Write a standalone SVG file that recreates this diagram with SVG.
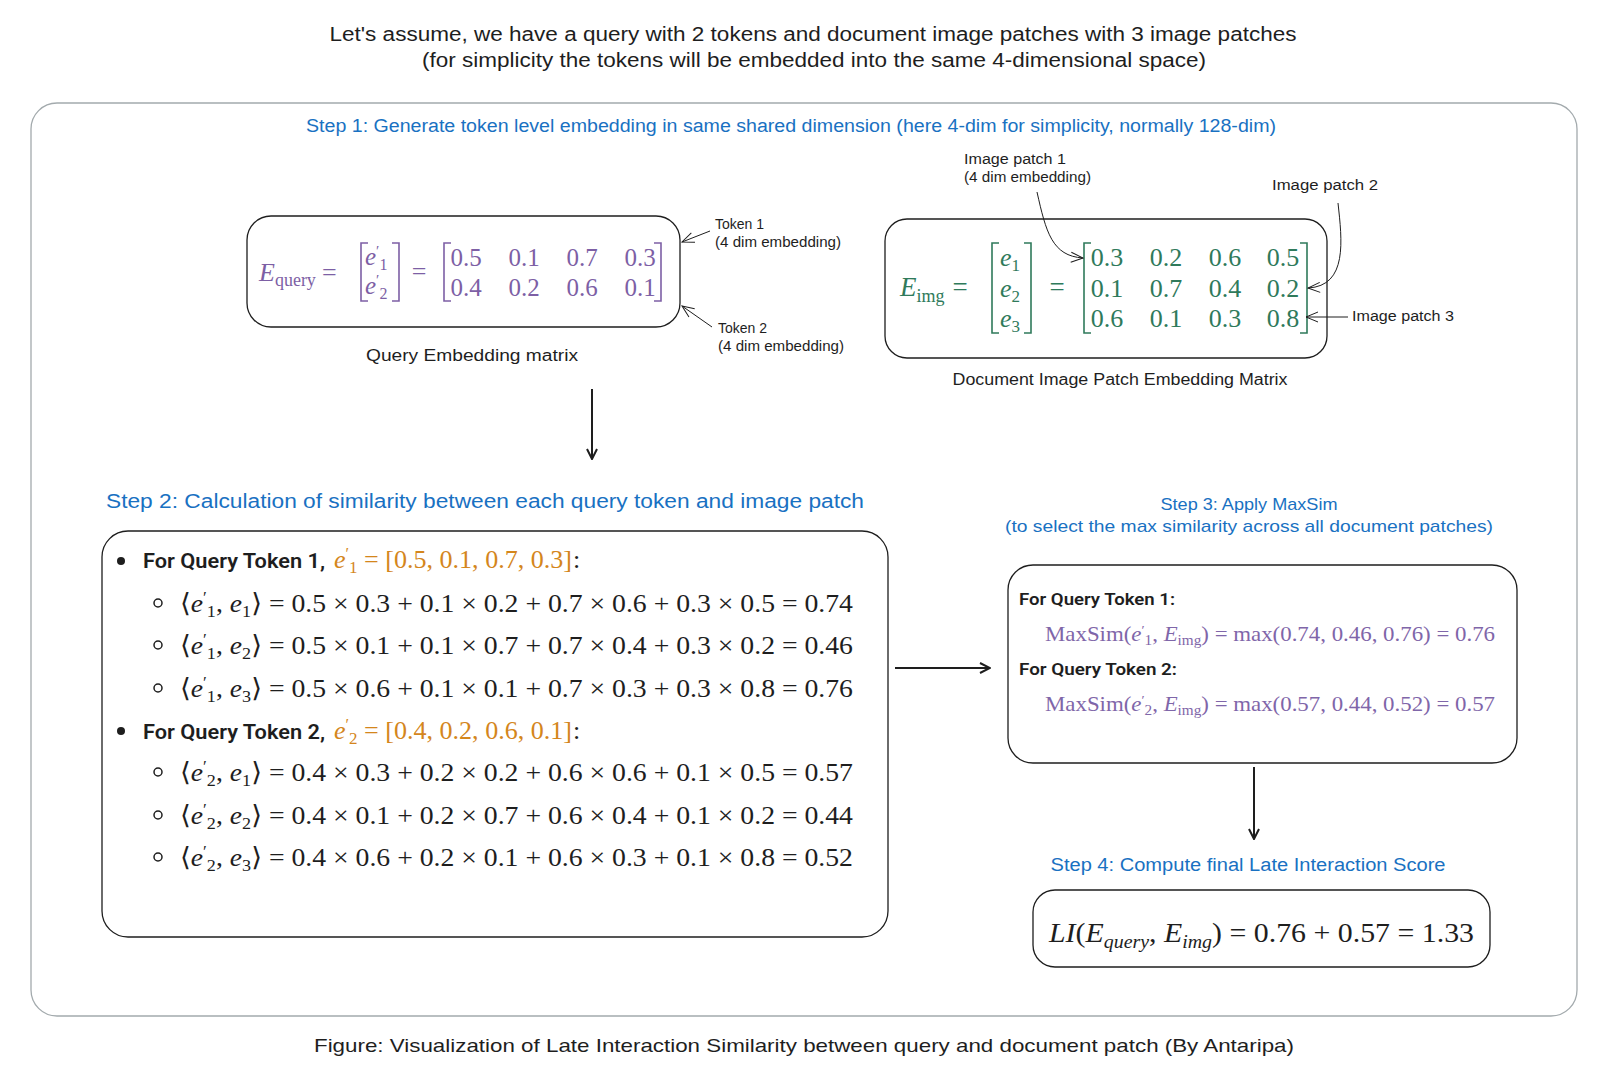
<svg xmlns="http://www.w3.org/2000/svg" width="1600" height="1076" viewBox="0 0 1600 1076">
<style>
.hw{font-family:"Liberation Sans","DejaVu Sans",sans-serif;fill:#1e1e1e}
.blue{fill:#1971c2}
.lbl{font-size:14px}
.m{font-family:"Liberation Serif","DejaVu Serif",serif}
.it{font-style:italic}
.box{fill:#fff;stroke:#1e1e1e;stroke-width:1.3}
.pur{fill:#7d5fa5}
.grn{fill:#2f7a5b}
.org{fill:#d4861c}
.br{fill:none;stroke-width:1.6}
.sans{font-family:"Roboto","Liberation Sans",sans-serif;font-weight:600;fill:#1e1e1e}
.ann{fill:none;stroke:#1e1e1e;stroke-width:1}
.con{fill:none;stroke:#1e1e1e;stroke-width:2}
</style>
<defs>
<marker id="ah" viewBox="0 0 12 12" refX="11" refY="6" markerWidth="12" markerHeight="12" markerUnits="userSpaceOnUse" orient="auto">
<path d="M1,1 L11,6 L1,11" fill="none" stroke="#1e1e1e" stroke-width="2"/>
</marker>
<marker id="ahs" viewBox="0 0 14 14" refX="13" refY="7" markerWidth="14" markerHeight="14" markerUnits="userSpaceOnUse" orient="auto">
<path d="M1,2 L13,7 L1,12" fill="none" stroke="#1e1e1e" stroke-width="1"/>
</marker>
</defs>
<rect width="1600" height="1076" fill="#fff"/>

<g id="title">
<text class="hw" x="813" y="41" font-size="20" text-anchor="middle" textLength="967" lengthAdjust="spacingAndGlyphs">Let's assume, we have a query with 2 tokens and document image patches with 3 image patches</text>
<text class="hw" x="814" y="67" font-size="20" text-anchor="middle" textLength="784" lengthAdjust="spacingAndGlyphs">(for simplicity the tokens will be embedded into the same 4-dimensional space)</text>
</g>

<g id="container">
<rect x="31" y="103" width="1546" height="913" rx="26" fill="none" stroke="#a3aaad" stroke-width="1.3"/>
<text class="hw blue" x="791" y="132" font-size="18" text-anchor="middle" textLength="970" lengthAdjust="spacingAndGlyphs">Step 1: Generate token level embedding in same shared dimension (here 4-dim for simplicity, normally 128-dim)</text>
</g>

<g id="query-matrix">
<rect class="box" x="247" y="216" width="433" height="111" rx="24"/>
<text class="m pur" x="259" y="281" font-size="26"><tspan class="it">E</tspan><tspan font-size="18" dy="5">query</tspan><tspan dy="-5" dx="6">=</tspan></text>
<path class="br" stroke="#7d5fa5" d="M368,243 H361 V301 H368 M392,243 H399 V301 H392"/>
<text class="m pur" x="365" y="265" font-size="25"><tspan class="it">e</tspan><tspan font-size="15" dy="-9">′</tspan><tspan font-size="16" dy="14">1</tspan></text>
<text class="m pur" x="365" y="294" font-size="25"><tspan class="it">e</tspan><tspan font-size="15" dy="-9">′</tspan><tspan font-size="16" dy="14">2</tspan></text>
<text class="m pur" x="419" y="280" font-size="26" text-anchor="middle">=</text>
<path class="br" stroke="#7d5fa5" d="M451,243 H444 V301 H451 M654,243 H661 V301 H654"/>
<g class="m pur" font-size="25" text-anchor="middle">
<text x="466" y="266">0.5</text><text x="524" y="266">0.1</text><text x="582" y="266">0.7</text><text x="640" y="266">0.3</text>
<text x="466" y="296">0.4</text><text x="524" y="296">0.2</text><text x="582" y="296">0.6</text><text x="640" y="296">0.1</text>
</g>
<text class="hw" x="472" y="361" font-size="16" text-anchor="middle" textLength="212" lengthAdjust="spacingAndGlyphs">Query Embedding matrix</text>
</g>

<g id="token-labels">
<text class="hw lbl" x="715" y="229">Token 1</text>
<text class="hw lbl" x="715" y="247" textLength="126" lengthAdjust="spacingAndGlyphs">(4 dim embedding)</text>
<text class="hw lbl" x="718" y="333">Token 2</text>
<text class="hw lbl" x="718" y="351" textLength="126" lengthAdjust="spacingAndGlyphs">(4 dim embedding)</text>
</g>

<g id="doc-matrix">
<rect class="box" x="885" y="219" width="442" height="139" rx="22"/>
<text class="m grn" x="900" y="296" font-size="27"><tspan class="it">E</tspan><tspan font-size="18" dy="6">img</tspan><tspan dy="-6" dx="8">=</tspan></text>
<path class="br" stroke="#2f7a5b" d="M999,243 H992 V333 H999 M1024,243 H1031 V333 H1024"/>
<g class="m grn" font-size="26">
<text x="1000" y="266"><tspan class="it">e</tspan><tspan font-size="17" dy="5">1</tspan></text>
<text x="1000" y="297"><tspan class="it">e</tspan><tspan font-size="17" dy="5">2</tspan></text>
<text x="1000" y="327"><tspan class="it">e</tspan><tspan font-size="17" dy="5">3</tspan></text>
</g>
<text class="m grn" x="1057" y="296" font-size="27" text-anchor="middle">=</text>
<path class="br" stroke="#2f7a5b" d="M1091,243 H1084 V333 H1091 M1300,243 H1307 V333 H1300"/>
<g class="m grn" font-size="26" text-anchor="middle">
<text x="1107" y="266">0.3</text><text x="1166" y="266">0.2</text><text x="1225" y="266">0.6</text><text x="1283" y="266">0.5</text>
<text x="1107" y="297">0.1</text><text x="1166" y="297">0.7</text><text x="1225" y="297">0.4</text><text x="1283" y="297">0.2</text>
<text x="1107" y="327">0.6</text><text x="1166" y="327">0.1</text><text x="1225" y="327">0.3</text><text x="1283" y="327">0.8</text>
</g>
<text class="hw" x="1120" y="385" font-size="16" text-anchor="middle" textLength="335" lengthAdjust="spacingAndGlyphs">Document Image Patch Embedding Matrix</text>
</g>

<g id="patch-labels">
<text class="hw lbl" x="964" y="164" textLength="102" lengthAdjust="spacingAndGlyphs">Image patch 1</text>
<text class="hw lbl" x="964" y="182" textLength="127" lengthAdjust="spacingAndGlyphs">(4 dim embedding)</text>
<text class="hw lbl" x="1272" y="190" textLength="106" lengthAdjust="spacingAndGlyphs">Image patch 2</text>
<text class="hw lbl" x="1352" y="321" textLength="102" lengthAdjust="spacingAndGlyphs">Image patch 3</text>
</g>

<g id="step2">
<text class="hw blue" x="106" y="508" font-size="20" textLength="758" lengthAdjust="spacingAndGlyphs">Step 2: Calculation of similarity between each query token and image patch</text>
<rect class="box" x="102" y="531" width="786" height="406" rx="26"/>
<circle cx="121" cy="561" r="4" fill="#1e1e1e"/>
<text class="sans" x="143" y="568" font-size="21" textLength="182" lengthAdjust="spacingAndGlyphs">For Query Token 1,</text>
<text class="m org" x="334" y="568" font-size="26" textLength="238" lengthAdjust="spacingAndGlyphs"><tspan class="it">e</tspan><tspan font-size="16" dy="-9">′</tspan><tspan font-size="17" dy="14">1</tspan><tspan dy="-5"> = [0.5, 0.1, 0.7, 0.3]</tspan></text>
<text class="m" x="573" y="568" font-size="26" fill="#1e1e1e">:</text>
<g class="m" font-size="26" fill="#1e1e1e">
<circle cx="158" cy="603" r="4" fill="none" stroke="#1e1e1e" stroke-width="1.5"/>
<text x="180" y="612" textLength="673" lengthAdjust="spacingAndGlyphs">⟨<tspan class="it">e</tspan><tspan font-size="16" dy="-9">′</tspan><tspan font-size="17" dy="14">1</tspan><tspan dy="-5">, </tspan><tspan class="it">e</tspan><tspan font-size="17" dy="5">1</tspan><tspan dy="-5">⟩ = 0.5 × 0.3 + 0.1 × 0.2 + 0.7 × 0.6 + 0.3 × 0.5 = 0.74</tspan></text>
<circle cx="158" cy="645" r="4" fill="none" stroke="#1e1e1e" stroke-width="1.5"/>
<text x="180" y="654" textLength="673" lengthAdjust="spacingAndGlyphs">⟨<tspan class="it">e</tspan><tspan font-size="16" dy="-9">′</tspan><tspan font-size="17" dy="14">1</tspan><tspan dy="-5">, </tspan><tspan class="it">e</tspan><tspan font-size="17" dy="5">2</tspan><tspan dy="-5">⟩ = 0.5 × 0.1 + 0.1 × 0.7 + 0.7 × 0.4 + 0.3 × 0.2 = 0.46</tspan></text>
<circle cx="158" cy="688" r="4" fill="none" stroke="#1e1e1e" stroke-width="1.5"/>
<text x="180" y="697" textLength="673" lengthAdjust="spacingAndGlyphs">⟨<tspan class="it">e</tspan><tspan font-size="16" dy="-9">′</tspan><tspan font-size="17" dy="14">1</tspan><tspan dy="-5">, </tspan><tspan class="it">e</tspan><tspan font-size="17" dy="5">3</tspan><tspan dy="-5">⟩ = 0.5 × 0.6 + 0.1 × 0.1 + 0.7 × 0.3 + 0.3 × 0.8 = 0.76</tspan></text>
</g>
<circle cx="121" cy="731" r="4" fill="#1e1e1e"/>
<text class="sans" x="143" y="739" font-size="21" textLength="182" lengthAdjust="spacingAndGlyphs">For Query Token 2,</text>
<text class="m org" x="334" y="739" font-size="26" textLength="238" lengthAdjust="spacingAndGlyphs"><tspan class="it">e</tspan><tspan font-size="16" dy="-9">′</tspan><tspan font-size="17" dy="14">2</tspan><tspan dy="-5"> = [0.4, 0.2, 0.6, 0.1]</tspan></text>
<text class="m" x="573" y="739" font-size="26" fill="#1e1e1e">:</text>
<g class="m" font-size="26" fill="#1e1e1e">
<circle cx="158" cy="772" r="4" fill="none" stroke="#1e1e1e" stroke-width="1.5"/>
<text x="180" y="781" textLength="673" lengthAdjust="spacingAndGlyphs">⟨<tspan class="it">e</tspan><tspan font-size="16" dy="-9">′</tspan><tspan font-size="17" dy="14">2</tspan><tspan dy="-5">, </tspan><tspan class="it">e</tspan><tspan font-size="17" dy="5">1</tspan><tspan dy="-5">⟩ = 0.4 × 0.3 + 0.2 × 0.2 + 0.6 × 0.6 + 0.1 × 0.5 = 0.57</tspan></text>
<circle cx="158" cy="815" r="4" fill="none" stroke="#1e1e1e" stroke-width="1.5"/>
<text x="180" y="824" textLength="673" lengthAdjust="spacingAndGlyphs">⟨<tspan class="it">e</tspan><tspan font-size="16" dy="-9">′</tspan><tspan font-size="17" dy="14">2</tspan><tspan dy="-5">, </tspan><tspan class="it">e</tspan><tspan font-size="17" dy="5">2</tspan><tspan dy="-5">⟩ = 0.4 × 0.1 + 0.2 × 0.7 + 0.6 × 0.4 + 0.1 × 0.2 = 0.44</tspan></text>
<circle cx="158" cy="857" r="4" fill="none" stroke="#1e1e1e" stroke-width="1.5"/>
<text x="180" y="866" textLength="673" lengthAdjust="spacingAndGlyphs">⟨<tspan class="it">e</tspan><tspan font-size="16" dy="-9">′</tspan><tspan font-size="17" dy="14">2</tspan><tspan dy="-5">, </tspan><tspan class="it">e</tspan><tspan font-size="17" dy="5">3</tspan><tspan dy="-5">⟩ = 0.4 × 0.6 + 0.2 × 0.1 + 0.6 × 0.3 + 0.1 × 0.8 = 0.52</tspan></text>
</g>
</g>

<g id="step3">
<text class="hw blue" x="1249" y="510" font-size="17" text-anchor="middle" textLength="177" lengthAdjust="spacingAndGlyphs">Step 3: Apply MaxSim</text>
<text class="hw blue" x="1249" y="532" font-size="17" text-anchor="middle" textLength="488" lengthAdjust="spacingAndGlyphs">(to select the max similarity across all document patches)</text>
<rect class="box" x="1008" y="565" width="509" height="198" rx="25"/>
<text class="sans" x="1019" y="605" font-size="17" font-weight="500" textLength="156" lengthAdjust="spacingAndGlyphs">For Query Token 1:</text>
<text class="m" x="1045" y="641" font-size="21" fill="#7f66a9" textLength="450" lengthAdjust="spacingAndGlyphs">MaxSim(<tspan class="it">e</tspan><tspan font-size="13" dy="-7">′</tspan><tspan font-size="14" dy="11">1</tspan><tspan dy="-4">, </tspan><tspan class="it">E</tspan><tspan font-size="14" dy="4">img</tspan><tspan dy="-4">) = max(0.74, 0.46, 0.76) = 0.76</tspan></text>
<text class="sans" x="1019" y="675" font-size="17" font-weight="500" textLength="158" lengthAdjust="spacingAndGlyphs">For Query Token 2:</text>
<text class="m" x="1045" y="711" font-size="21" fill="#7f66a9" textLength="450" lengthAdjust="spacingAndGlyphs">MaxSim(<tspan class="it">e</tspan><tspan font-size="13" dy="-7">′</tspan><tspan font-size="14" dy="11">2</tspan><tspan dy="-4">, </tspan><tspan class="it">E</tspan><tspan font-size="14" dy="4">img</tspan><tspan dy="-4">) = max(0.57, 0.44, 0.52) = 0.57</tspan></text>
</g>

<g id="step4">
<text class="hw blue" x="1248" y="871" font-size="18" text-anchor="middle" textLength="395" lengthAdjust="spacingAndGlyphs">Step 4: Compute final Late Interaction Score</text>
<rect class="box" x="1033" y="890" width="457" height="77" rx="22"/>
<text class="m" x="1049" y="942" font-size="27" fill="#1e1e1e" textLength="425" lengthAdjust="spacingAndGlyphs"><tspan class="it">LI</tspan>(<tspan class="it">E</tspan><tspan class="it" font-size="18" dy="6">query</tspan><tspan dy="-6">, </tspan><tspan class="it">E</tspan><tspan class="it" font-size="18" dy="6">img</tspan><tspan dy="-6">) = 0.76 + 0.57 = 1.33</tspan></text>
</g>

<g id="footer">
<text class="hw" x="804" y="1052" font-size="19" text-anchor="middle" textLength="980" lengthAdjust="spacingAndGlyphs">Figure: Visualization of Late Interaction Similarity between query and document patch (By Antaripa)</text>
</g>

<g id="connectors">
<path class="con" d="M592,389 L592,459" marker-end="url(#ah)"/>
<path class="con" d="M895,668 L990,668" marker-end="url(#ah)"/>
<path class="con" d="M1254,767 L1254,839" marker-end="url(#ah)"/>
<path class="ann" d="M710,231 L682,242" marker-end="url(#ahs)"/>
<path class="ann" d="M712,327 L682,306" marker-end="url(#ahs)"/>
<path class="ann" d="M1037,192 C1046,232 1052,256 1083,258" marker-end="url(#ahs)"/>
<path class="ann" d="M1338,203 C1342,240 1348,286 1308,288" marker-end="url(#ahs)"/>
<path class="ann" d="M1348,317 L1306,317" marker-end="url(#ahs)"/>
</g>
</svg>
